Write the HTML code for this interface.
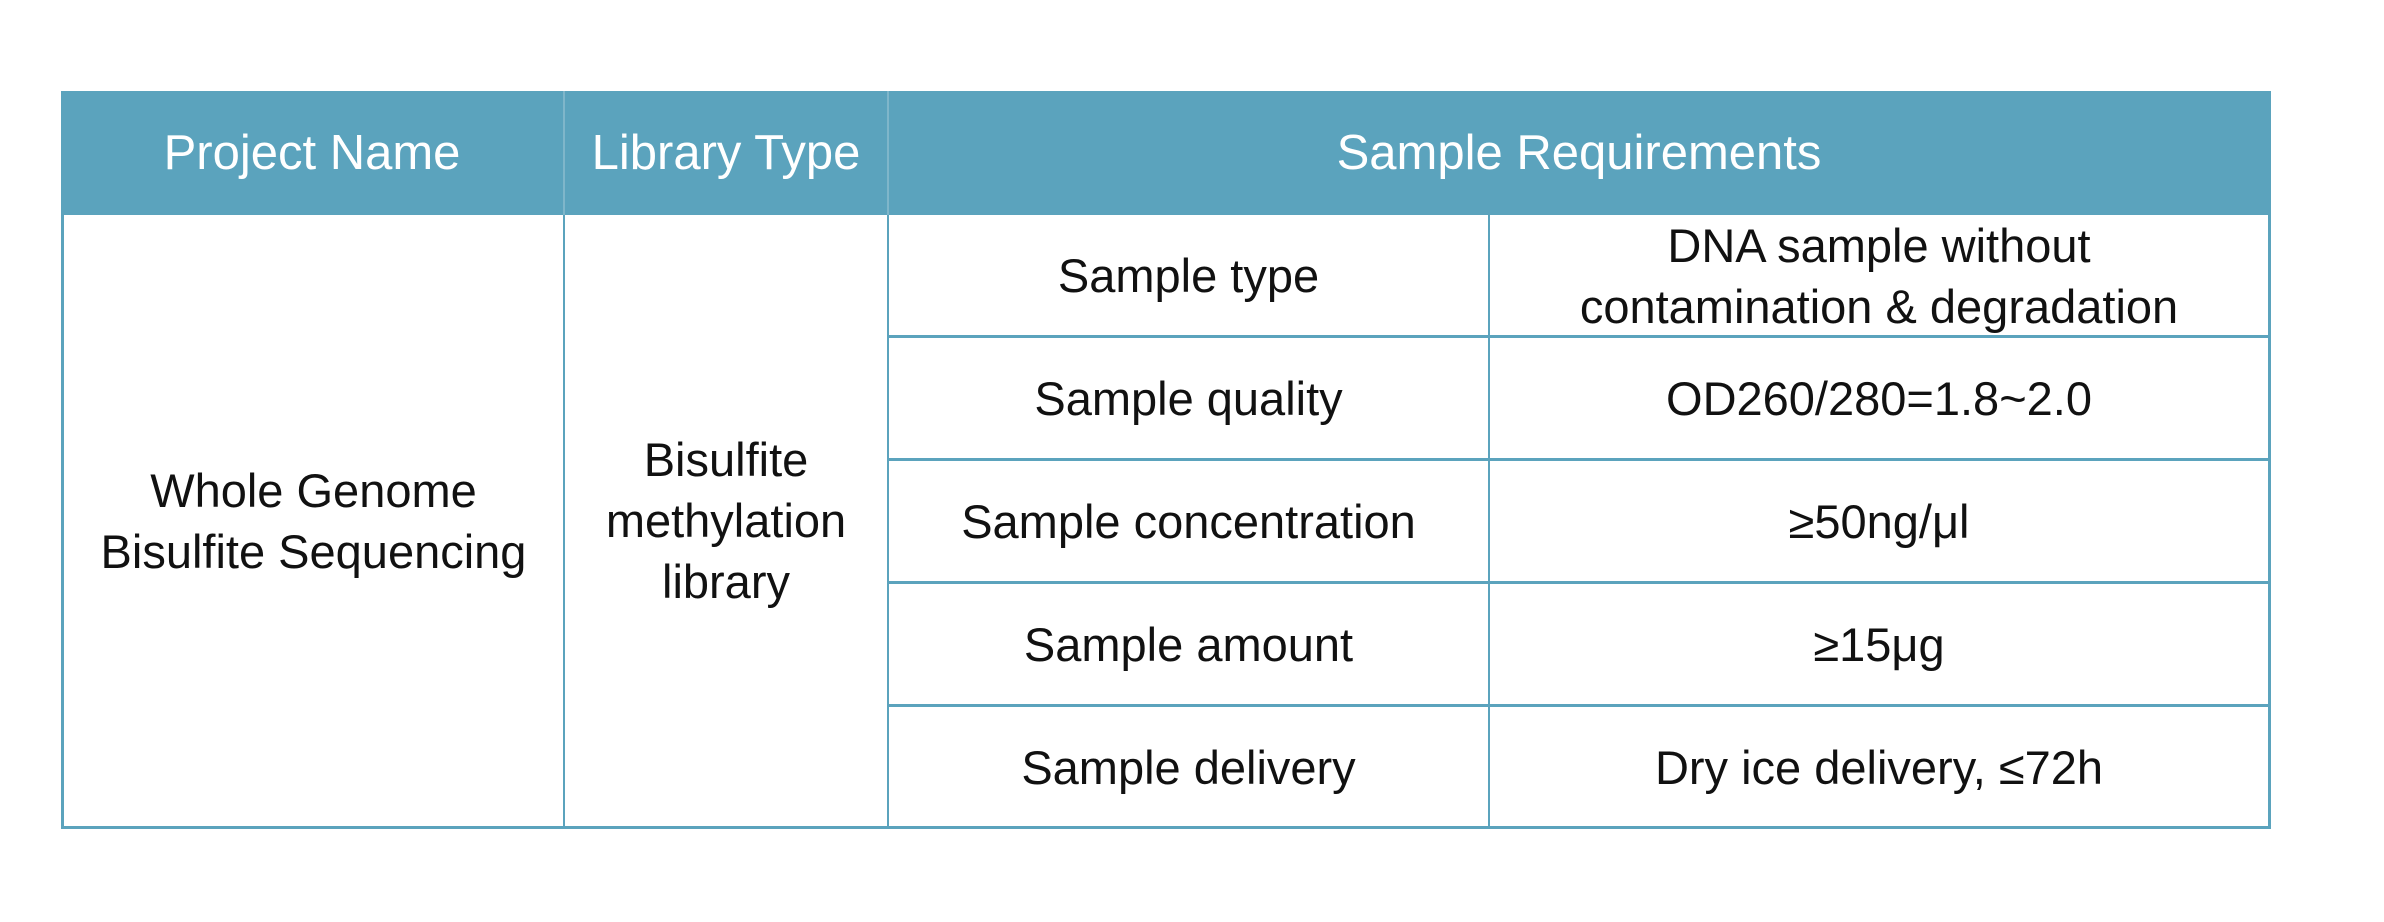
<!DOCTYPE html>
<html><head><meta charset="utf-8"><style>
html,body{margin:0;padding:0;background:#fff;width:2384px;height:922px;overflow:hidden}
body{position:relative;font-family:"Liberation Sans",sans-serif}
.b{position:absolute;background:#5ba3bd}
.t{position:absolute;display:flex;align-items:center;justify-content:center;text-align:center;font-size:47px;line-height:61px;color:#111;white-space:nowrap}
.h{color:#fff;font-size:49px}
</style></head><body>
<div class="b" style="left:61px;top:91px;width:2210px;height:124px"></div>
<div class="b" style="left:61px;top:91px;width:3px;height:738px"></div>
<div class="b" style="left:2268px;top:91px;width:3px;height:738px"></div>
<div class="b" style="left:61px;top:826px;width:2210px;height:3px"></div>
<div class="b" style="left:563px;top:215px;width:2px;height:612px"></div>
<div class="b" style="left:887px;top:215px;width:2px;height:612px"></div>
<div class="b" style="left:1488px;top:215px;width:2px;height:612px"></div>
<div class="b" style="left:887px;top:335px;width:1382px;height:3px"></div>
<div class="b" style="left:887px;top:458px;width:1382px;height:3px"></div>
<div class="b" style="left:887px;top:581px;width:1382px;height:3px"></div>
<div class="b" style="left:887px;top:704px;width:1382px;height:3px"></div>
<div class="b" style="left:563px;top:91px;width:2px;height:124px;background:#7fb6ca"></div>
<div class="b" style="left:887px;top:91px;width:2px;height:124px;background:#7fb6ca"></div>

<div class="t h" style="left:61px;top:91px;width:502px;height:124px">Project Name</div>
<div class="t h" style="left:564px;top:91px;width:324px;height:124px">Library Type</div>
<div class="t h" style="left:888px;top:91px;width:1382px;height:124px">Sample Requirements</div>

<div class="t" style="left:64px;top:215px;width:499px;height:611px">Whole Genome<br>Bisulfite Sequencing</div>
<div class="t" style="left:565px;top:215px;width:322px;height:611px">Bisulfite<br>methylation<br>library</div>

<div class="t" style="left:889px;top:215px;width:599px;height:121px">Sample type</div>
<div class="t" style="left:889px;top:338px;width:599px;height:121px">Sample quality</div>
<div class="t" style="left:889px;top:461px;width:599px;height:121px">Sample concentration</div>
<div class="t" style="left:889px;top:584px;width:599px;height:121px">Sample amount</div>
<div class="t" style="left:889px;top:707px;width:599px;height:121px">Sample delivery</div>

<div class="t" style="left:1490px;top:215px;width:778px;height:121px">DNA sample without<br>contamination &amp; degradation</div>
<div class="t" style="left:1490px;top:338px;width:778px;height:121px">OD260/280=1.8~2.0</div>
<div class="t" style="left:1490px;top:461px;width:778px;height:121px">≥50ng/μl</div>
<div class="t" style="left:1490px;top:584px;width:778px;height:121px">≥15μg</div>
<div class="t" style="left:1490px;top:707px;width:778px;height:121px">Dry ice delivery, ≤72h</div>
</body></html>
